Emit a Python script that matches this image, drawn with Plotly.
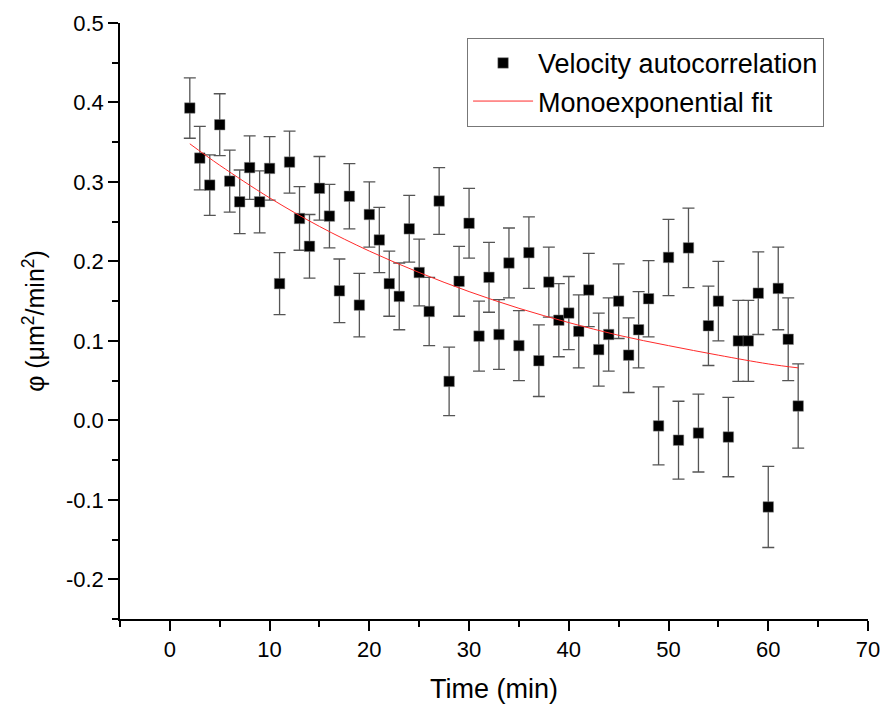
import plotly.graph_objects as go

# Measured data (time in minutes)
time_min = list(range(2, 64))
phi = [0.393, 0.330, 0.296, 0.372, 0.301, 0.275, 0.318, 0.275, 0.317, 0.172,
       0.325, 0.254, 0.219, 0.292, 0.257, 0.163, 0.282, 0.145, 0.259, 0.227,
       0.172, 0.156, 0.241, 0.186, 0.137, 0.276, 0.049, 0.175, 0.248, 0.106,
       0.180, 0.108, 0.198, 0.094, 0.211, 0.075, 0.174, 0.126, 0.135, 0.112,
       0.164, 0.089, 0.108, 0.150, 0.082, 0.114, 0.153, -0.007, 0.205, -0.025,
       0.217, -0.016, 0.119, 0.150, -0.021, 0.100, 0.100, 0.160, -0.109, 0.166,
       0.102, 0.018]
phi_err = [0.038, 0.040, 0.038, 0.039, 0.039, 0.040, 0.040, 0.039, 0.040, 0.039,
           0.039, 0.040, 0.040, 0.040, 0.040, 0.040, 0.041, 0.040, 0.041, 0.041,
           0.041, 0.042, 0.042, 0.042, 0.043, 0.042, 0.043, 0.044, 0.044, 0.044,
           0.044, 0.044, 0.044, 0.044, 0.045, 0.045, 0.044, 0.046, 0.046, 0.046,
           0.046, 0.046, 0.046, 0.047, 0.047, 0.048, 0.048, 0.049, 0.048, 0.049,
           0.050, 0.049, 0.050, 0.050, 0.050, 0.051, 0.051, 0.052, 0.051, 0.052,
           0.052, 0.053]

# Fit curve samples
fit_time = [2, 5, 10, 15, 20, 25, 30, 35, 40, 45, 50, 55, 60, 63]
fit_phi = [0.348, 0.321, 0.280, 0.244, 0.213, 0.186, 0.162, 0.141, 0.123,
           0.107, 0.094, 0.082, 0.071, 0.066]

# Tick labels
y_tickvals = [-0.2, -0.1, 0.0, 0.1, 0.2, 0.3, 0.4, 0.5]
y_ticktext = ["-0.2", "-0.1", "0.0", "0.1", "0.2", "0.3", "0.4", "0.5"]
x_tickvals = [0, 10, 20, 30, 40, 50, 60, 70]
x_ticktext = ["0", "10", "20", "30", "40", "50", "60", "70"]

FONT = "Liberation Sans, Arial, sans-serif"

fig = go.Figure()
fig.add_trace(go.Scatter(
    x=time_min, y=phi, mode="markers", name="Velocity autocorrelation",
    marker=dict(symbol="square", size=10.5, color="black",
                line=dict(color="#888888", width=0.5)),
    error_y=dict(type="data", array=phi_err, visible=True,
                 color="#555555", thickness=1.3, width=6),
))
fig.add_trace(go.Scatter(
    x=fit_time, y=fit_phi, mode="lines", name="Monoexponential fit",
    line=dict(color="#ff2a2a", width=1, shape="spline"),
))

fig.update_layout(
    width=882, height=710,
    margin=dict(l=120, r=14, t=23, b=91),
    paper_bgcolor="white", plot_bgcolor="white",
    font=dict(family=FONT, color="black", size=22),
    showlegend=True,
    legend=dict(x=0.464, y=0.975, xanchor="left", yanchor="top",
                bgcolor="white", bordercolor="#777777", borderwidth=1,
                font=dict(size=27, family=FONT), itemwidth=60,
                tracegroupgap=0),
)
fig.update_xaxes(
    range=[-5, 70], tickmode="array", tickvals=x_tickvals, ticktext=x_ticktext,
    showgrid=False, zeroline=False, automargin=False,
    showline=True, linecolor="black", linewidth=1.5,
    ticks="outside", ticklen=10, tickwidth=1.5, tickcolor="black",
    tickfont=dict(size=22),
    minor=dict(dtick=5, tick0=0, ticks="outside", ticklen=6, tickwidth=1.5,
               tickcolor="black", showgrid=False),
    title=dict(text="Time (min)", font=dict(size=27), standoff=18),
)
fig.update_yaxes(
    range=[-0.25, 0.5], tickmode="array", tickvals=y_tickvals, ticktext=y_ticktext,
    showgrid=False, zeroline=False, automargin=False,
    showline=True, linecolor="black", linewidth=1.5,
    ticks="outside", ticklen=10, tickwidth=1.5, tickcolor="black",
    tickfont=dict(size=22),
    minor=dict(dtick=0.05, tick0=0, ticks="outside", ticklen=6, tickwidth=1.5,
               tickcolor="black", showgrid=False),
    title=dict(text="φ (μm<sup>2</sup>/min<sup>2</sup>)", font=dict(size=25),
               standoff=14),
)

fig.write_html("out.html")
